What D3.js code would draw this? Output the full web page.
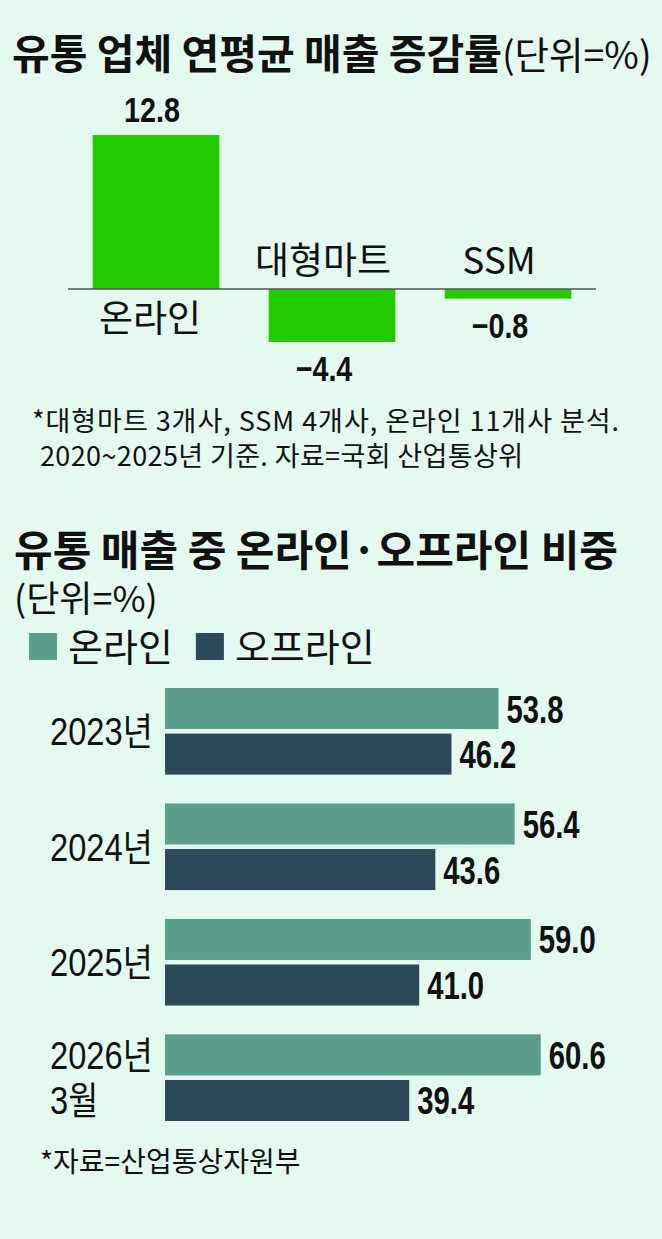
<!DOCTYPE html>
<html>
<head>
<meta charset="utf-8">
<script src="https://cdn.jsdelivr.net/npm/d3@7"></script>
<style>
  html, body { margin: 0; padding: 0; background: #e4f9f0; }
  svg { display: block; }
</style>
</head>
<body>
<svg id="chart" width="662" height="1239"></svg>
<script>
// --- top chart: 연평균 매출 증감률
const growthTitle = "유통 업체 연평균 매출 증감률";
const growthUnit = "(단위=%)";
const growthCats = ["온라인", "대형마트", "SSM"];
const growthVals = [12.8, -4.4, -0.8];
const growthNotes = ["*대형마트 3개사, SSM 4개사, 온라인 11개사 분석.", "2020~2025년 기준. 자료=국회 산업통상위"];

// --- bottom chart: 온라인·오프라인 비중
const shareTitle = "유통 매출 중 온라인·오프라인 비중";
const shareUnit = "(단위=%)";
const years = ["2023년", "2024년", "2025년", "2026년\n3월"];
const seriesNames = ["온라인", "오프라인"];
const onlineShare = [53.8, 56.4, 59.0, 60.6];
const offlineShare = [46.2, 43.6, 41.0, 39.4];
const shareNote = "*자료=산업통상자원부";

const KR = "'Noto Sans CJK KR', 'Noto Sans', sans-serif";
const NUM = "'Liberation Sans', Arial, 'Noto Sans CJK KR', sans-serif";
const seriesColor = d3.scaleOrdinal().domain(seriesNames).range(["#5a9e8c", "#2c4a57"]);
const fmt = d3.format(".1f");

const svg = d3.select("#chart");
svg.append("rect").attr("width", 662).attr("height", 1239).attr("fill", "#e4f9f0");

// narrow numbers: the original uses a condensed gothic
function narrowText(g, x, y, txt, size, weight, sx, anchor) {
  return g.append("text")
    .attr("transform", `translate(${x},${y}) scale(${sx},1)`)
    .attr("text-anchor", anchor || "start")
    .attr("font-family", NUM)
    .attr("font-size", size)
    .attr("font-weight", weight)
    .attr("fill", "#111")
    .text(txt);
}

// ================= top chart =================
const t1 = svg.append("text")
  .attr("x", 12).attr("y", 69)
  .attr("font-family", KR).attr("fill", "#111");
t1.append("tspan").attr("font-size", 41).attr("font-weight", 700).text(growthTitle);
t1.append("tspan").attr("font-size", 37.5).attr("font-weight", 400).text(growthUnit);

const topG = svg.append("g");
const x1 = d3.scaleBand().domain(growthCats).range([68, 596]).paddingInner(0.28).paddingOuter(0.14);
const y1 = d3.scaleLinear().domain([0, 12.8]).range([289, 135]);

topG.selectAll("rect.gbar")
  .data(growthCats)
  .enter().append("rect")
  .attr("class", "gbar")
  .attr("x", d => x1(d))
  .attr("width", x1.bandwidth())
  .attr("y", (d, i) => Math.min(y1(growthVals[i]), y1(0)))
  .attr("height", (d, i) => Math.abs(y1(growthVals[i]) - y1(0)))
  .attr("fill", "#22cc00");

topG.append("line")
  .attr("x1", 68).attr("x2", 596)
  .attr("y1", y1(0)).attr("y2", y1(0))
  .attr("stroke", "#555").attr("stroke-width", 1.5);

growthCats.forEach((c, i) => {
  const v = growthVals[i];
  const cx = x1(c) + x1.bandwidth() / 2;
  // value label on the bar's end
  if (v >= 0) narrowText(topG, cx - 4, y1(v) - 13, fmt(v), 35, 700, 0.82, "middle");
  else narrowText(topG, cx - 8, y1(v) + 39, fmt(v), 35, 700, 0.82, "middle");
  // category name on the other side of the zero line
  topG.append("text")
    .attr("x", v >= 0 ? cx - 6 : cx - 9)
    .attr("y", v >= 0 ? y1(0) + 43 : y1(0) - 15)
    .attr("text-anchor", "middle")
    .attr("font-family", KR).attr("font-size", 37)
    .attr("fill", "#111")
    .text(c);
});

// footnote lines, stretched to the original's line widths
const noteWidths = [587, 483];
topG.selectAll("text.note")
  .data(growthNotes)
  .enter().append("text")
  .attr("class", "note")
  .attr("x", (d, i) => i === 0 ? 32 : 40)
  .attr("y", (d, i) => 431 + i * 35)
  .attr("font-family", KR).attr("font-size", 27)
  .attr("textLength", (d, i) => noteWidths[i])
  .attr("lengthAdjust", "spacing")
  .attr("fill", "#111")
  .text(d => d);

// ================= bottom chart =================
svg.append("text")
  .attr("x", 14).attr("y", 566)
  .attr("font-family", KR).attr("font-size", 42).attr("font-weight", 700)
  .attr("fill", "#111")
  .text(shareTitle);
svg.append("text")
  .attr("x", 14).attr("y", 612)
  .attr("font-family", KR).attr("font-size", 36)
  .attr("fill", "#111")
  .text(shareUnit);

// legend
const legend = svg.append("g");
let lx = 29;
seriesNames.forEach(s => {
  legend.append("rect")
    .attr("x", lx).attr("y", 633)
    .attr("width", 28).attr("height", 27)
    .attr("fill", seriesColor(s));
  const lt = legend.append("text")
    .attr("x", lx + 39).attr("y", 661)
    .attr("font-family", KR).attr("font-size", 38)
    .attr("fill", "#111")
    .text(s);
  lx += 39 + lt.node().getComputedTextLength() + 23;
});

const bottomG = svg.append("g");
const x2 = d3.scaleLinear().domain([0, 100]).range([165, 785]);
const y2 = d3.scaleBand().domain(years).range([688, 1121]).paddingInner(0.25).paddingOuter(0);
const ys = d3.scaleBand().domain(seriesNames).range([0, y2.bandwidth()]).paddingInner(0.1);

const rows = years.map((yr, i) => ({ yr, vals: [onlineShare[i], offlineShare[i]] }));

rows.forEach(r => {
  const gy = y2(r.yr);
  r.vals.forEach((v, j) => {
    const s = seriesNames[j];
    bottomG.append("rect")
      .attr("x", x2(0))
      .attr("y", gy + ys(s))
      .attr("width", x2(v) - x2(0))
      .attr("height", ys.bandwidth())
      .attr("fill", seriesColor(s));
    narrowText(bottomG, x2(v) + 8, gy + ys(s) + ys.bandwidth() / 2 + 14, fmt(v), 38, 700, 0.77, "start");
  });
  const lines = r.yr.split("\n");
  lines.forEach((ln, k) => {
    const cy = lines.length === 1
      ? gy + y2.bandwidth() / 2
      : gy + ys(seriesNames[k]) + ys.bandwidth() / 2;
    narrowText(bottomG, 50, cy + 14, ln, 38, 400, 0.86, "start");
  });
});

svg.append("text")
  .attr("x", 40).attr("y", 1172)
  .attr("font-family", KR).attr("font-size", 28)
  .attr("fill", "#111")
  .text(shareNote);
</script>
</body>
</html>
